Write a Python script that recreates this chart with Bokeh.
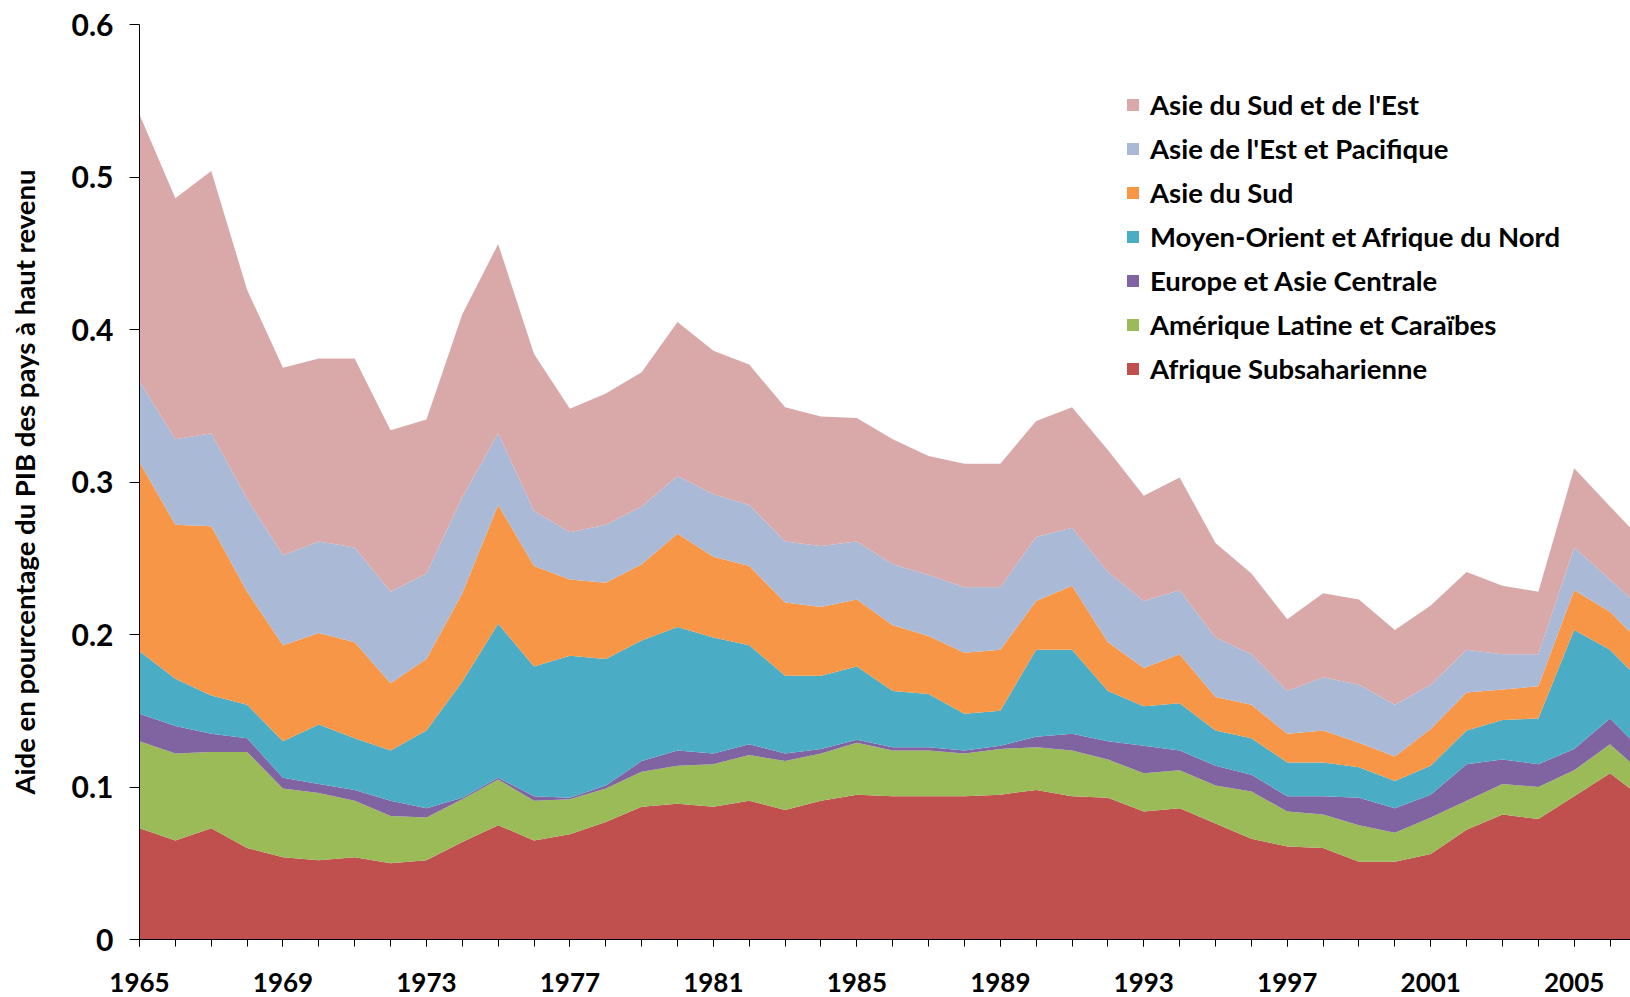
from bokeh.plotting import figure
from bokeh.models import ColumnDataSource, Legend, LegendItem, FixedTicker, Range1d
from bokeh.embed import file_html
from bokeh.resources import INLINE

# ---------------- data ----------------
years = list(range(1965, 2008))

afrique_subsaharienne = [0.073, 0.065, 0.073, 0.060, 0.054, 0.052, 0.054, 0.050, 0.052, 0.064,
                         0.075, 0.065, 0.069, 0.077, 0.087, 0.089, 0.087, 0.091, 0.085, 0.091,
                         0.095, 0.094, 0.094, 0.094, 0.095, 0.098, 0.094, 0.093, 0.084, 0.086,
                         0.076, 0.066, 0.061, 0.060, 0.051, 0.051, 0.056, 0.072, 0.082, 0.079,
                         0.094, 0.109, 0.091]
amerique_latine_caraibes = [0.057, 0.057, 0.050, 0.063, 0.045, 0.044, 0.037, 0.031, 0.028, 0.028,
                            0.030, 0.026, 0.023, 0.022, 0.023, 0.025, 0.028, 0.030, 0.032, 0.031,
                            0.034, 0.030, 0.030, 0.028, 0.030, 0.028, 0.030, 0.025, 0.025, 0.025,
                            0.025, 0.031, 0.023, 0.022, 0.024, 0.019, 0.024, 0.019, 0.020, 0.021,
                            0.017, 0.019, 0.016]
europe_asie_centrale = [0.018, 0.018, 0.012, 0.009, 0.007, 0.006, 0.007, 0.010, 0.006, 0.001,
                        0.001, 0.003, 0.001, 0.002, 0.007, 0.010, 0.007, 0.007, 0.005, 0.003,
                        0.002, 0.002, 0.002, 0.002, 0.002, 0.007, 0.011, 0.012, 0.018, 0.013,
                        0.013, 0.011, 0.010, 0.012, 0.018, 0.016, 0.015, 0.024, 0.016, 0.015,
                        0.014, 0.017, 0.014]
moyen_orient_afrique_nord = [0.041, 0.031, 0.025, 0.022, 0.024, 0.039, 0.034, 0.033, 0.051, 0.076,
                             0.101, 0.085, 0.093, 0.083, 0.079, 0.081, 0.076, 0.065, 0.051, 0.048,
                             0.048, 0.037, 0.035, 0.024, 0.023, 0.057, 0.055, 0.033, 0.026, 0.031,
                             0.023, 0.024, 0.022, 0.022, 0.020, 0.018, 0.019, 0.022, 0.026, 0.030,
                             0.078, 0.045, 0.045]
asie_du_sud = [0.124, 0.101, 0.111, 0.074, 0.063, 0.060, 0.063, 0.044, 0.047, 0.058,
               0.078, 0.066, 0.050, 0.050, 0.050, 0.061, 0.053, 0.052, 0.048, 0.045,
               0.044, 0.043, 0.038, 0.040, 0.040, 0.032, 0.042, 0.032, 0.025, 0.032,
               0.022, 0.022, 0.019, 0.021, 0.016, 0.016, 0.024, 0.025, 0.020, 0.021,
               0.026, 0.025, 0.025]
asie_est_pacifique = [0.053, 0.056, 0.061, 0.061, 0.059, 0.060, 0.062, 0.060, 0.056, 0.063,
                      0.047, 0.036, 0.031, 0.038, 0.038, 0.038, 0.041, 0.040, 0.040, 0.040,
                      0.038, 0.040, 0.040, 0.043, 0.041, 0.042, 0.038, 0.046, 0.044, 0.042,
                      0.039, 0.033, 0.028, 0.035, 0.038, 0.034, 0.029, 0.028, 0.023, 0.021,
                      0.028, 0.021, 0.023]
asie_sud_est = [0.175, 0.158, 0.172, 0.137, 0.123, 0.120, 0.124, 0.106, 0.101, 0.120,
                0.124, 0.103, 0.081, 0.086, 0.088, 0.101, 0.094, 0.092, 0.088, 0.085,
                0.081, 0.082, 0.078, 0.081, 0.081, 0.076, 0.079, 0.080, 0.069, 0.074,
                0.062, 0.053, 0.047, 0.055, 0.056, 0.049, 0.052, 0.051, 0.045, 0.041,
                0.052, 0.048, 0.045]

series_labels = ["Afrique Subsaharienne", "Amérique Latine et Caraïbes",
                 "Europe et Asie Centrale", "Moyen-Orient et Afrique du Nord",
                 "Asie du Sud", "Asie de l'Est et Pacifique", "Asie du Sud et de l'Est"]
series_values = [afrique_subsaharienne, amerique_latine_caraibes, europe_asie_centrale,
                 moyen_orient_afrique_nord, asie_du_sud, asie_est_pacifique, asie_sud_est]
series_colors = ["#C0504D", "#9BBB59", "#8064A2", "#4BACC6", "#F79646", "#AAB9D6", "#D9A9A9"]

x_ticks = [1965, 1969, 1973, 1977, 1981, 1985, 1989, 1993, 1997, 2001, 2005]
x_tick_labels = [str(t) for t in x_ticks]
y_ticks = [0, 0.1, 0.2, 0.3, 0.4, 0.5, 0.6]
y_tick_labels = ["0", "0.1", "0.2", "0.3", "0.4", "0.5", "0.6"]
y_title = "Aide en pourcentage du PIB des pays à haut revenu"

# ---------------- figure ----------------
cols = ["s%d" % i for i in range(len(series_values))]
data = {"year": years}
for c, v in zip(cols, series_values):
    data[c] = v
source = ColumnDataSource(data)

p = figure(width=1630, height=997, output_backend="svg", toolbar_location=None,
           x_range=Range1d(1965, 2006.57), y_range=Range1d(0, 0.6),
           min_border_left=139, min_border_top=24, min_border_bottom=58,
           min_border_right=0, background_fill_color="white")
p.outline_line_color = None
p.xgrid.grid_line_color = None
p.ygrid.grid_line_color = None

renderers = p.varea_stack(stackers=cols, x="year", color=series_colors, source=source)

# axes
p.yaxis.ticker = FixedTicker(ticks=y_ticks)
p.yaxis.major_label_overrides = dict(zip(y_ticks, y_tick_labels))
p.yaxis.minor_tick_line_color = None
p.yaxis.major_tick_out = 10
p.yaxis.major_tick_in = 0
p.yaxis.major_label_standoff = 16
p.yaxis.major_label_text_font = "Lato"
p.yaxis.major_label_text_font_style = "bold"
p.yaxis.major_label_text_font_size = "30px"
p.yaxis.major_label_text_color = "black"
p.yaxis.axis_line_color = "black"
p.yaxis.major_tick_line_color = "black"
p.yaxis.axis_label = y_title
p.yaxis.axis_label_text_font = "Lato"
p.yaxis.axis_label_text_font_style = "bold"
p.yaxis.axis_label_text_font_size = "27.5px"
p.yaxis.axis_label_text_color = "black"
p.yaxis.axis_label_standoff = 28

p.xaxis.ticker = FixedTicker(ticks=x_ticks, minor_ticks=years)
p.xaxis.major_label_overrides = dict(zip(x_ticks, x_tick_labels))
p.xaxis.major_tick_out = 7
p.xaxis.major_tick_in = 0
p.xaxis.minor_tick_out = 7
p.xaxis.minor_tick_in = 0
p.xaxis.minor_tick_line_color = "black"
p.xaxis.major_tick_line_color = "black"
p.xaxis.axis_line_color = "black"
p.xaxis.major_label_standoff = 26
p.xaxis.major_label_text_font = "Lato"
p.xaxis.major_label_text_font_style = "bold"
p.xaxis.major_label_text_font_size = "26px"
p.xaxis.major_label_text_color = "black"

# legend (top series first)
items = [LegendItem(label=lab, renderers=[r]) for lab, r in zip(series_labels, renderers)]
items = items[::-1]
legend = Legend(items=items, location=(986, 554), orientation="vertical",
                padding=0, margin=0, spacing=10, label_height=34,
                glyph_width=15, glyph_height=15, label_standoff=10,
                label_text_font="Lato", label_text_font_style="bold",
                label_text_font_size="27.5px", label_text_color="black",
                border_line_color=None, background_fill_alpha=0)
p.add_layout(legend)

open("out.html", "w").write(file_html(p, INLINE))
